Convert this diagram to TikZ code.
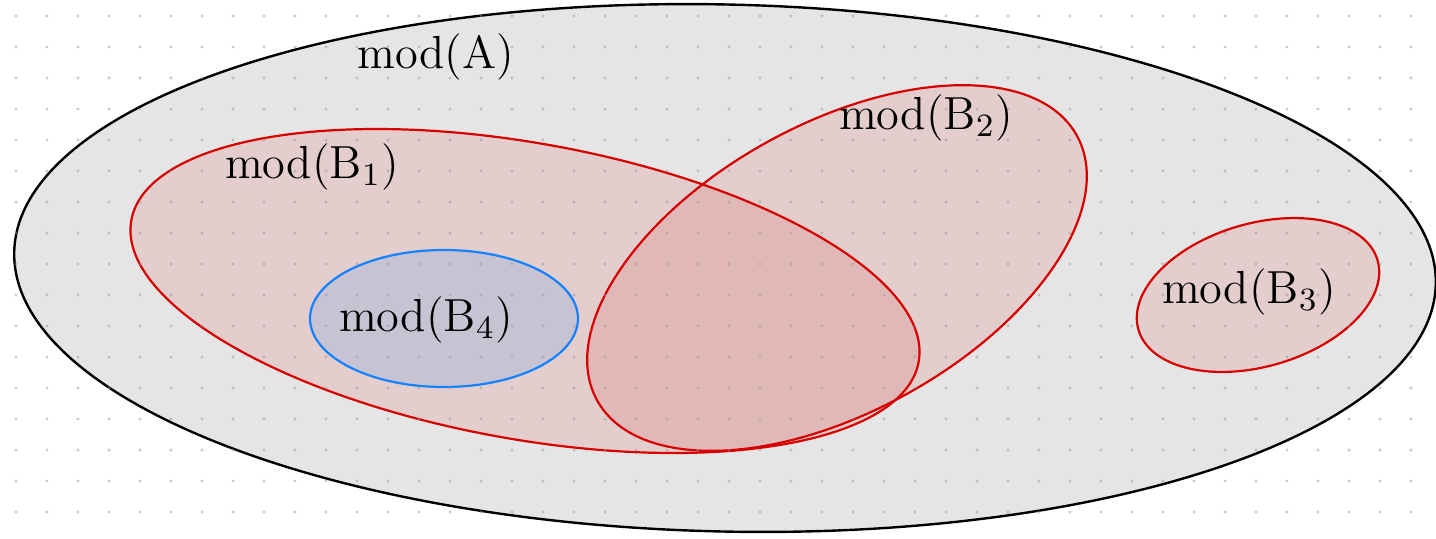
\documentclass[tikz,border=0pt]{standalone}
\definecolor{redline}{RGB}{215,0,0}
\definecolor{blueline}{RGB}{20,130,255}
\definecolor{grayfill}{RGB}{229,229,229}
\definecolor{dotc}{RGB}{150,150,150}
\begin{document}
\begin{tikzpicture}[x=0.25pt,y=-0.25pt,
  lbl/.style={font=\fontsize{11.6}{14}\selectfont, inner sep=0pt},
  outerset/.style={draw=black, line width=0.6pt, fill=grayfill},
  redset/.style={draw=redline, line width=0.55pt, fill=red!85!black, fill opacity=0.1},
  blueset/.style={draw=blueline, line width=0.55pt, fill=blueline, fill opacity=0.13},
  gdot/.style={fill=dotc, fill opacity=0.5}]
\useasboundingbox (0,0) rectangle (1436,538);
\fill[white] (0,0) rectangle (1436,538);
% sets
\draw[outerset, rotate around={-1.3:(725,268)}] (725,268) ellipse [x radius=711, y radius=263.5];
\draw[redset, rotate around={-10.2:(525,291)}] (525,291) ellipse [x radius=400, y radius=148];
\draw[redset, rotate around={28.9:(837,268)}] (837,268) ellipse [x radius=274, y radius=144];
\draw[redset, rotate around={16.2:(1258,295)}] (1258,295) ellipse [x radius=124.5, y radius=71.5];
\draw[blueset] (444,318.5) ellipse [x radius=134, y radius=68.5];
% dot grid
\foreach \i in {0,...,45} {
  \foreach \j in {0,...,16} {
    \fill[gdot] ({16+31*\i},{16+31*\j}) circle [radius=1.7];
  }
}
% labels
\node[lbl] (lA) at (436,57) {mod(A)};
\node[lbl] (lB1) at (312,167) {mod(B\textsubscript{1})};
\node[lbl] (lB2) at (926,118) {mod(B\textsubscript{2})};
\node[lbl] (lB3) at (1249,292) {mod(B\textsubscript{3})};
\node[lbl] (lB4) at (426,320) {mod(B\textsubscript{4})};
\end{tikzpicture}
\end{document}
